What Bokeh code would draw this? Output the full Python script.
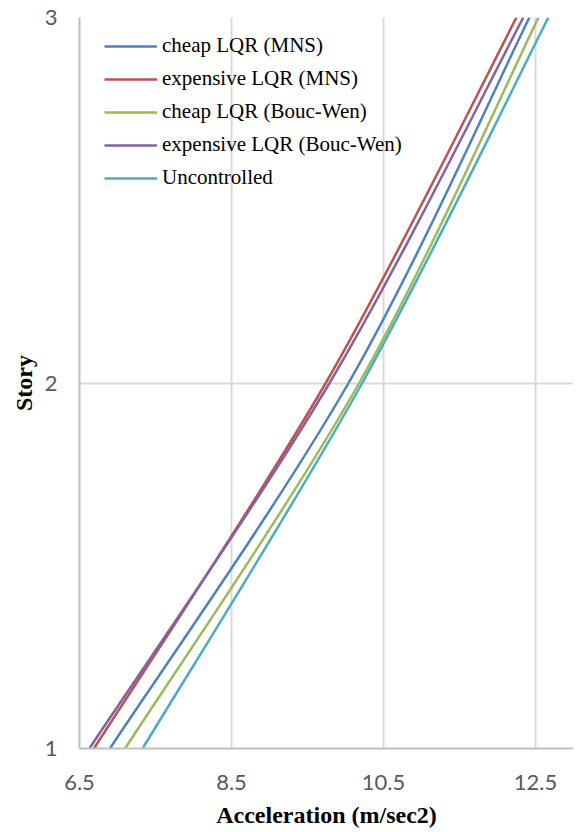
from bokeh.plotting import figure
from bokeh.models import Legend, LegendItem, FixedTicker, Range1d
from bokeh.embed import file_html
from bokeh.resources import INLINE

stories = [1, 2, 3]
cheap_mns = [6.90, 10.04, 12.42]
exp_mns = [6.69, 9.74, 12.25]
cheap_bw = [7.10, 10.18, 12.54]
exp_bw = [6.63, 9.79, 12.34]
uncontrolled = [7.33, 10.22, 12.67]

series_names = ["cheap LQR (MNS)", "expensive LQR (MNS)", "cheap LQR (Bouc-Wen)",
                "expensive LQR (Bouc-Wen)", "Uncontrolled"]
series_vals = [cheap_mns, exp_mns, cheap_bw, exp_bw, uncontrolled]
colors = ["#4F81BD", "#C0504D", "#9BBB59", "#8064A2", "#4BACC6"]

x_ticks = [6.5, 8.5, 10.5, 12.5]
y_ticks = [1, 2, 3]


def smooth_segments(xs, ys):
    n = len(xs)
    seg = dict(x0=[], y0=[], x1=[], y1=[], cx0=[], cy0=[], cx1=[], cy1=[])
    for i in range(n - 1):
        i0 = max(i - 1, 0)
        i3 = min(i + 2, n - 1)
        seg["x0"].append(xs[i]); seg["y0"].append(ys[i])
        seg["x1"].append(xs[i + 1]); seg["y1"].append(ys[i + 1])
        seg["cx0"].append(xs[i] + (xs[i + 1] - xs[i0]) / 6.0)
        seg["cy0"].append(ys[i] + (ys[i + 1] - ys[i0]) / 6.0)
        seg["cx1"].append(xs[i + 1] - (xs[i3] - xs[i]) / 6.0)
        seg["cy1"].append(ys[i + 1] - (ys[i3] - ys[i]) / 6.0)
    return seg


p = figure(frame_width=494, frame_height=731, output_backend="svg", toolbar_location=None,
           x_range=Range1d(6.5, 13.0), y_range=Range1d(1, 3),
           min_border_left=79, min_border_right=0, min_border_top=17, min_border_bottom=60)
p.outline_line_color = None
p.background_fill_color = "white"

items = []
nan = float("nan")
for name, vals, col in zip(series_names, series_vals, colors):
    seg = smooth_segments(vals, stories)
    p.bezier(source=seg, x0="x0", y0="y0", x1="x1", y1="y1",
             cx0="cx0", cy0="cy0", cx1="cx1", cy1="cy1",
             line_color=col, line_width=2.5)
    r = p.line(x=[nan], y=[nan], line_color=col, line_width=2.5)
    items.append(LegendItem(label=name, renderers=[r]))

legend = Legend(items=items, location=(25, 558), margin=0, padding=0,
                spacing=8, glyph_width=53, glyph_height=24, label_height=24,
                label_standoff=5, border_line_color=None, background_fill_alpha=0,
                label_text_font="Liberation Serif", label_text_font_size="21px",
                label_text_color="black")
p.add_layout(legend, "center")

for ax in (p.xaxis[0], p.yaxis[0]):
    ax.major_tick_line_color = None
    ax.minor_tick_line_color = None
    ax.major_tick_out = 0
    ax.major_tick_in = 0
    ax.axis_line_color = "#BFBFBF"
    ax.axis_line_width = 2
    ax.major_label_text_font = "Lato"
    ax.major_label_text_font_size = "22px"
    ax.major_label_text_color = "#595959"
    ax.axis_label_text_font = "Liberation Serif"
    ax.axis_label_text_font_style = "bold"
    ax.axis_label_text_font_size = "24px"
    ax.axis_label_text_color = "black"

p.xaxis.ticker = FixedTicker(ticks=x_ticks)
p.yaxis.ticker = FixedTicker(ticks=y_ticks)
p.xaxis.axis_label = "Acceleration (m/sec2)"
p.yaxis.axis_label = "Story"
p.xaxis.major_label_standoff = 26
p.xaxis.axis_label_standoff = 9
p.yaxis.major_label_standoff = 22
p.yaxis.axis_label_standoff = 5

p.xgrid.ticker = FixedTicker(ticks=x_ticks)
p.ygrid.ticker = FixedTicker(ticks=y_ticks)
p.grid.grid_line_color = "#D9D9D9"
p.grid.grid_line_width = 2

open("out.html", "w").write(file_html(p, INLINE))
